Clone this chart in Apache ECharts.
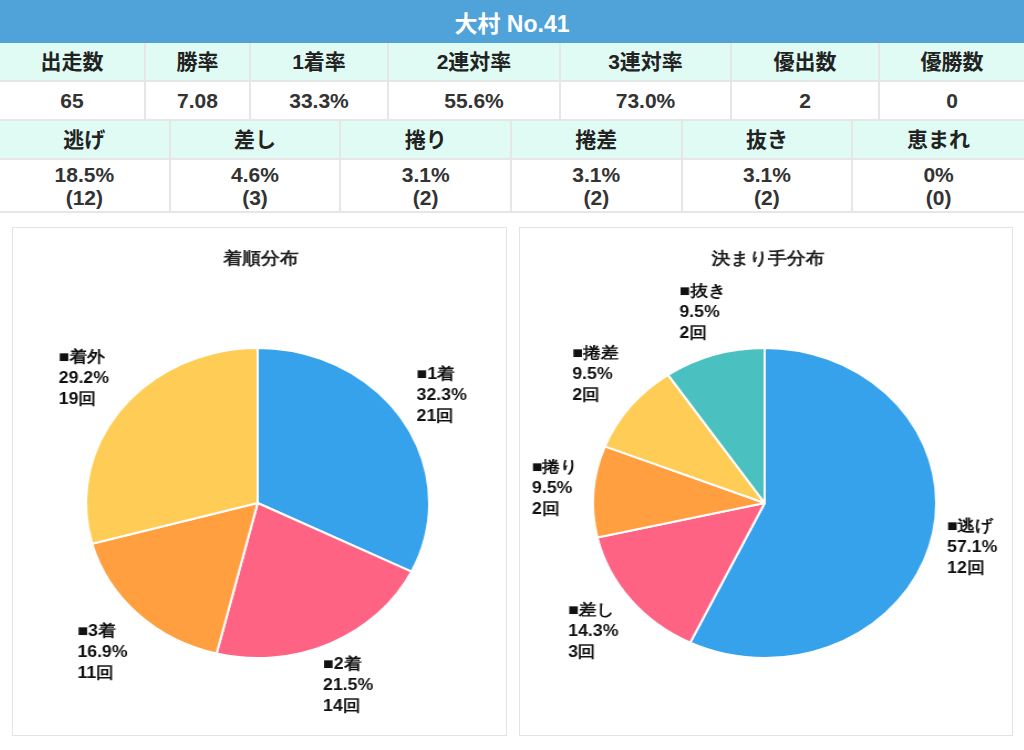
<!DOCTYPE html>
<html>
<head>
<meta charset="utf-8">
<script src="https://cdn.jsdelivr.net/npm/echarts@6/dist/echarts.min.js"></script>
<style>
  * { box-sizing: border-box; }
  body {
    margin: 0;
    width: 1024px;
    height: 750px;
    background: #fff;
    font-family: "Liberation Sans", Arial, "Noto Sans CJK JP", sans-serif;
    position: relative;
    overflow: hidden;
  }
  .title-bar {
    position: absolute; left: 0; top: 0; width: 1024px; height: 43px;
    background: #4fa3d9; color: #fff;
    font-size: 23px; font-weight: bold;
    display: flex; align-items: center; justify-content: center;
  }
  .row {
    position: absolute; left: 0; width: 1024px;
    display: flex;
    border-bottom: 2px solid #e6e6e6;
  }
  .row.head { background: #e0fbf3; }
  .row > div {
    border-right: 2px solid #e6e6e6;
    display: flex; align-items: center; justify-content: center;
    text-align: center;
    font-size: 21px; font-weight: bold; color: #222;
    line-height: 23px;
  }
  .row > div:last-child { border-right: none; }
  .row.vals > div { color: #333; }
  .box {
    position: absolute; top: 227px; height: 509px;
    border: 1px solid #e3e3e3; background: #fff;
    overflow: hidden;
  }
  .chart {
    position: absolute; left: 0; top: 0;
    width: 447px; height: 507px;
    transform: scaleX(1.107);
    transform-origin: 0 0;
  }
</style>
</head>
<body>
<div class="title-bar">大村 No.41</div>
<div class="row head" id="r1" style="top:43px;height:39px"></div>
<div class="row vals" id="r2" style="top:82px;height:39px"></div>
<div class="row head" id="r3" style="top:121px;height:39px"></div>
<div class="row vals" id="r4" style="top:160px;height:53px"></div>
<div class="box" style="left:12px;width:495px"><div class="chart" id="pie1"></div></div>
<div class="box" style="left:519px;width:494px"><div class="chart" id="pie2"></div></div>
<script>
// 成績
const statHeaders = ["出走数", "勝率", "1着率", "2連対率", "3連対率", "優出数", "優勝数"];
const statValues = ["65", "7.08", "33.3%", "55.6%", "73.0%", "2", "0"];
const statWidths = [146, 105, 138, 172, 171, 148, 144];

// 決まり手
const kimariteNames = ["逃げ", "差し", "捲り", "捲差", "抜き", "恵まれ"];
const kimaritePct = ["18.5%", "4.6%", "3.1%", "3.1%", "3.1%", "0%"];
const kimariteCounts = [12, 3, 2, 2, 2, 0];

// 着順分布
const rankNames = ["1着", "2着", "3着", "着外"];
const rankCounts = [21, 14, 11, 19];
const rankPct = ["32.3", "21.5", "16.9", "29.2"];

// 決まり手分布
const winNames = ["逃げ", "差し", "捲り", "捲差", "抜き"];
const winCounts = [12, 3, 2, 2, 2];
const winPct = ["57.1", "14.3", "9.5", "9.5", "9.5"];

const colors = ["#36a2eb", "#ff6384", "#ff9f40", "#ffcd56", "#4bc0c0"];

function fillRow(id, texts, widths) {
  const row = document.getElementById(id);
  texts.forEach((t, i) => {
    const d = document.createElement("div");
    d.style.width = widths ? widths[i] + "px" : (1024 / texts.length) + "px";
    d.innerHTML = t;
    row.appendChild(d);
  });
}
fillRow("r1", statHeaders, statWidths);
fillRow("r2", statValues, statWidths);
fillRow("r3", kimariteNames);
fillRow("r4", kimaritePct.map((p, i) => p + "<br>(" + kimariteCounts[i] + ")"));

const CX = 221, CY = 275, R = 155, LABEL_OFFSET = 14;

function createPie(dom, title, names, counts, pct) {
  const myChart = echarts.init(dom);
  const data = names.map((n, i) => ({ name: n, value: counts[i], pct: pct[i] }));
  const labelFont = { fontSize: 16, fontWeight: "bold", lineHeight: 21, color: "#111", align: "left" };
  const options = {
    animation: false,
    color: colors,
    title: {
      text: title,
      left: "center",
      top: 18,
      textStyle: { fontSize: 17, fontWeight: "bold", color: "#222" },
    },
    series: [
      {
        type: "pie",
        center: [CX, CY],
        radius: R,
        startAngle: 90,
        silent: true,
        label: { show: false },
        labelLine: { show: false },
        itemStyle: { borderColor: "#fff", borderWidth: 2 },
        data: data,
      },
      {
        // ラベル用の透明リング
        type: "pie",
        center: [CX, CY],
        radius: [190, 210],
        startAngle: 90,
        silent: true,
        avoidLabelOverlap: false,
        itemStyle: { color: "rgba(0,0,0,0)", borderWidth: 0 },
        label: {
          show: true,
          position: "inside",
          formatter: (p) =>
            "{t|■" + p.name + "}\n{t|" + p.data.pct + "%}\n{t|" + p.value + "回}",
          rich: { t: labelFont },
        },
        labelLine: { show: false },
        // 外周から一定距離にラベルの端が来るよう寄せる
        labelLayout: (p) => {
          const r = p.labelRect;
          const lx = r.x + r.width / 2, ly = r.y + r.height / 2;
          const len = Math.hypot(lx - CX, ly - CY);
          const ux = (lx - CX) / len, uy = (ly - CY) / len;
          const vs = 1 / Math.max(Math.abs(ux), Math.abs(uy));
          const nx = CX + (R + LABEL_OFFSET) * ux + (r.width / 2) * ux * vs;
          const ny = CY + (R + LABEL_OFFSET) * uy + (r.height / 2) * uy * vs;
          return { dx: nx - lx, dy: ny - ly };
        },
        data: data,
      },
    ],
  };
  myChart.setOption(options);
}

createPie(document.getElementById("pie1"), "着順分布", rankNames, rankCounts, rankPct);
createPie(document.getElementById("pie2"), "決まり手分布", winNames, winCounts, winPct);
</script>
</body>
</html>
